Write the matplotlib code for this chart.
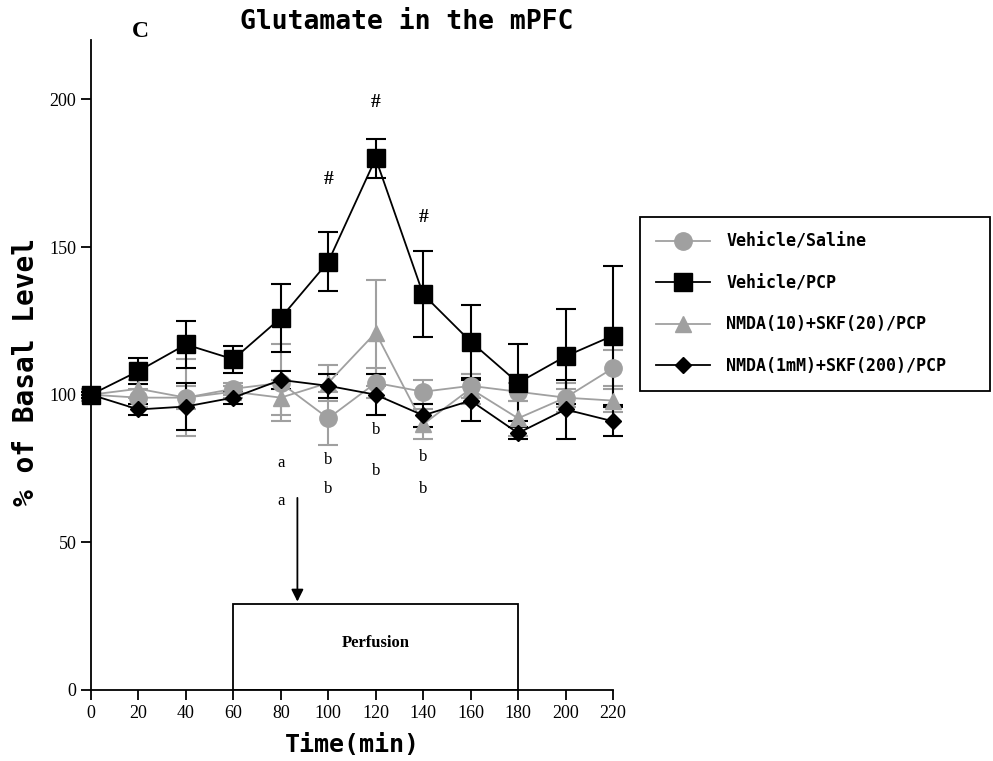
import matplotlib
matplotlib.use("Agg")
import matplotlib.pyplot as plt
from matplotlib.patches import Rectangle
from matplotlib.lines import Line2D

# time points (min)
time = [0, 20, 40, 60, 80, 100, 120, 140, 160, 180, 200, 220]

# % of basal level, mean and error
saline = [100, 99, 99, 102, 104, 92, 104, 101, 103, 101, 99, 109]
saline_err = [2, 3, 4, 2, 13, 9, 5, 4, 4, 3, 3, 6]
pcp = [100, 108, 117, 112, 126, 145, 180, 134, 118, 104, 113, 120]
pcp_err = [1, 4.5, 8, 4.5, 11.5, 10, 6.5, 14.5, 12.5, 13, 16, 23.5]
nmda10 = [100, 102, 99, 101, 99, 104, 121, 90, 102, 92, 99, 98]
nmda10_err = [1, 3, 13, 2, 6, 6, 18, 5, 5, 6, 5, 4]
nmda1mm = [100, 95, 96, 99, 105, 103, 100, 93, 98, 87, 95, 91]
nmda1mm_err = [1, 2, 8, 2, 3, 4, 7, 4, 7, 2, 10, 5]

# significance marks
hash_x = [100, 120, 140]
hash_y = [173, 199, 160]
letter_x = [80, 80, 100, 100, 120, 120, 140, 140]
letter_y = [77, 64, 78, 68, 88, 74, 79, 68]
letters = ['a', 'a', 'b', 'b', 'b', 'b', 'b', 'b']

gray = '#a0a0a0'
mono = 'DejaVu Sans Mono'
serif = 'Liberation Serif'

fig = plt.figure(figsize=(9.93, 7.61), dpi=100)
ax = fig.add_axes([0.0916, 0.0933, 0.5257, 0.8537])

series = [
    (saline, saline_err, 'o', gray, 12.5, 'Vehicle/Saline'),
    (nmda10, nmda10_err, '^', gray, 11.5, 'NMDA(10)+SKF(20)/PCP'),
    (pcp, pcp_err, 's', 'black', 13.5, 'Vehicle/PCP'),
    (nmda1mm, nmda1mm_err, 'D', 'black', 8.5, 'NMDA(1mM)+SKF(200)/PCP'),
]
handles = {}
for y, e, m, c, ms, lab in series:
    h = ax.errorbar(time, y, yerr=e, marker=m, color=c, markersize=ms,
                    linewidth=1.3, elinewidth=1.5, capsize=7, capthick=1.5,
                    clip_on=False, zorder=3)
    for art in h.lines[1] + h.lines[2]:
        art.set_clip_on(False)
    handles[lab] = Line2D([], [], marker=m, color=c, markersize=ms, linewidth=1.3)

# perfusion box and arrow
ax.add_patch(Rectangle((60, 0), 120, 29, fill=False, edgecolor='black', linewidth=1.3))
ax.text(120, 16, 'Perfusion', ha='center', va='center', fontsize=12,
        fontweight='bold', family=serif)
ax.annotate('', xy=(87, 29), xytext=(87, 66),
            arrowprops=dict(arrowstyle='-|>', color='black', lw=1.3, mutation_scale=18))

for x, y in zip(hash_x, hash_y):
    ax.text(x, y, '#', ha='center', va='center', fontsize=14, fontweight='bold', family=serif)
for x, y, t in zip(letter_x, letter_y, letters):
    ax.text(x, y, t, ha='center', va='center', fontsize=12, family=serif)

ax.set_xlim(0, 220)
ax.set_ylim(0, 220)
ax.set_xticks(time)
ax.set_yticks([0, 50, 100, 150, 200])
ax.spines['top'].set_visible(False)
ax.spines['right'].set_visible(False)
ax.spines['left'].set_linewidth(1.3)
ax.spines['bottom'].set_linewidth(1.3)
ax.tick_params(direction='out', length=7, width=1.3, labelsize=13)
for lbl in ax.get_xticklabels() + ax.get_yticklabels():
    lbl.set_family(serif)

ax.set_xlabel('Time(min)', fontsize=18, fontweight='bold', family=mono, labelpad=8)
ax.set_ylabel('% of Basal Level', fontsize=20, fontweight='bold', family=mono)
ax.yaxis.set_label_coords(-0.098, 0.49)

fig.text(0.141, 0.958, 'C', fontsize=17, fontweight='bold', family=serif, ha='center', va='center')
fig.text(0.41, 0.971, 'Glutamate in the mPFC', fontsize=19, fontweight='bold', family=mono,
         ha='center', va='center')

order = ['Vehicle/Saline', 'Vehicle/PCP', 'NMDA(10)+SKF(20)/PCP', 'NMDA(1mM)+SKF(200)/PCP']
leg = fig.legend([handles[k] for k in order], order, loc='upper left',
                 bbox_to_anchor=(0.645, 0.715, 0.352, 0.0), mode='expand', borderaxespad=0,
                 prop={'family': mono, 'weight': 'bold', 'size': 12},
                 fancybox=False, edgecolor='black', framealpha=1,
                 borderpad=0.95, labelspacing=1.4, handlelength=3.2, handletextpad=1.0)
leg.get_frame().set_linewidth(1.3)

fig.savefig('out.png', dpi=100)
